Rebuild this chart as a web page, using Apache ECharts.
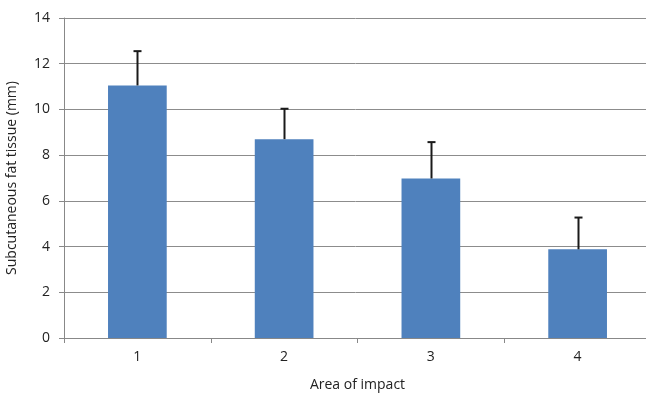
<!DOCTYPE html>
<html><head><meta charset="utf-8">
<script src="https://cdn.jsdelivr.net/npm/echarts@6/dist/echarts.min.js"></script>
<style>html,body{margin:0;padding:0;background:#fff}#c{width:646px;height:401px}</style>
</head><body><div id="c"></div>
<script>
const categories = ['1', '2', '3', '4'];
const meanValues = [11.05, 8.7, 6.98, 3.88];
const upperError = [12.55, 10.03, 8.57, 5.27];
const yTicks = [0, 2, 4, 6, 8, 10, 12, 14];

const font = '"Open Sans", "Noto Sans", sans-serif';
const chart = echarts.init(document.getElementById('c'), null, {renderer: 'canvas'});
chart.setOption({
  animation: false,
  grid: {left: 64, top: 18, width: 587, height: 320, containLabel: false, outerBoundsMode: 'none'},
  xAxis: {
    type: 'category', data: categories,
    name: 'Area of impact', nameLocation: 'middle', nameGap: 40,
    nameTextStyle: {fontFamily: font, fontSize: 14, color: '#222'},
    axisLine: {lineStyle: {color: '#888', width: 1}},
    axisTick: {show: true, length: 5, lineStyle: {color: '#888'}},
    axisLabel: {fontFamily: font, fontSize: 14, color: '#222', margin: 12}
  },
  yAxis: {
    type: 'value', min: 0, max: 14, interval: 2,
    name: 'Subcutaneous fat tissue (mm)', nameLocation: 'middle', nameGap: 45,
    nameTextStyle: {fontFamily: font, fontSize: 14, color: '#222'},
    axisLine: {show: true, lineStyle: {color: '#888', width: 1}},
    axisTick: {show: true, length: 5, lineStyle: {color: '#888'}},
    axisLabel: {fontFamily: font, fontSize: 14, color: '#222', margin: 14,
      formatter: v => yTicks.includes(v) ? String(v) : ''},
    splitLine: {lineStyle: {color: '#8c8c8c', width: 1}}
  },
  series: [
    {type: 'bar', data: meanValues, barWidth: '40%',
     itemStyle: {color: '#4F81BD'}},
    {type: 'custom', data: meanValues.map((v, i) => [i, v, upperError[i]]),
     z: 10,
     renderItem: function (params, api) {
       const base = api.coord([api.value(0), api.value(1)]);
       const top = api.coord([api.value(0), api.value(2)]);
       const x = Math.round(base[0]) + 0.5;
       return {type: 'group', children: [
         {type: 'line', shape: {x1: x, y1: base[1], x2: x, y2: top[1]},
          style: {stroke: '#1a1a1a', lineWidth: 2}},
         {type: 'line', shape: {x1: x - 4, y1: top[1], x2: x + 4, y2: top[1]},
          style: {stroke: '#1a1a1a', lineWidth: 2}}
       ]};
     }}
  ]
});
</script></body></html>
